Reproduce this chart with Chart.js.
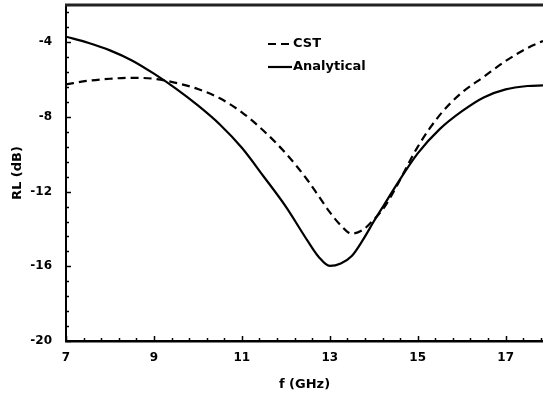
<!DOCTYPE html>
<html>
<head>
<meta charset="utf-8">
<script src="https://cdn.jsdelivr.net/npm/chart.js@4/dist/chart.umd.min.js"></script>
<style>
html,body{margin:0;padding:0;background:#fff;overflow:hidden;}
#wrap{width:543px;height:396px;position:relative;}
</style>
</head>
<body>
<div id="wrap"><canvas id="c" width="543" height="396"></canvas></div>
<script>
// ---- data ----
const freq = [7,7.5,8,8.5,9,9.5,10,10.5,11,11.5,12,12.5,12.75,13,13.25,13.5,13.75,14,14.25,14.5,15,15.5,16,16.5,17,17.5,17.85];
const cst = [-6.25,-6.06,-5.95,-5.9,-5.95,-6.17,-6.5,-7.0,-7.75,-8.75,-9.95,-11.4,-12.25,-13.1,-13.8,-14.25,-14.05,-13.5,-12.8,-11.8,-9.6,-7.9,-6.7,-5.85,-5.0,-4.3,-3.93];
const analytical = [-3.7,-4.02,-4.43,-4.97,-5.68,-6.48,-7.38,-8.4,-9.65,-11.2,-12.8,-14.65,-15.5,-15.98,-15.85,-15.45,-14.6,-13.6,-12.65,-11.7,-9.95,-8.65,-7.7,-6.95,-6.52,-6.34,-6.31];
const xTicks = [7,9,11,13,15,17];
const yTicks = [-20,-16,-12,-8,-4];
const seriesNames = ['CST','Analytical'];
const xTitle = 'f (GHz)';
const yTitle = 'RL (dB)';

const FONT = "'DejaVu Sans', sans-serif";
const toXY = arr => arr.map((v,i)=>({x:freq[i], y:v}));

const ticksAndFrame = {
  id:'ticksAndFrame',
  afterDraw(chart){
    const {ctx, chartArea:a, scales:{x,y}} = chart;
    ctx.save();
    ctx.lineWidth = 3;
    ctx.strokeStyle = '#222';
    ctx.beginPath(); ctx.moveTo(a.left-1, a.top); ctx.lineTo(chart.width, a.top); ctx.stroke();
    ctx.strokeStyle = '#000';
    ctx.lineWidth = 1.5;
    for (let v = x.min; v <= x.max + 1e-9; v += 0.4) {
      const px = Math.round(x.getPixelForValue(v)) + 0.5;
      const major = Math.abs((v - 7) / 2 - Math.round((v - 7) / 2)) < 1e-6;
      const len = major ? 5 : 3;
      ctx.beginPath(); ctx.moveTo(px, a.bottom); ctx.lineTo(px, a.bottom - len); ctx.stroke();
    }
    for (let v = y.min; v <= y.max + 1e-9; v += 0.8) {
      const py = Math.round(y.getPixelForValue(v)) + 0.5;
      const major = Math.abs(v / 4 - Math.round(v / 4)) < 1e-6;
      const len = major ? 5 : 3;
      ctx.beginPath(); ctx.moveTo(a.left, py); ctx.lineTo(a.left + len, py); ctx.stroke();
    }
    const ds = chart.data.datasets;
    const lx = 268, ly = [44, 67];
    ctx.font = "bold 13px " + FONT;
    ctx.textBaseline = 'middle';
    ctx.fillStyle = '#000';
    ds.forEach((d,i)=>{
      ctx.lineWidth = 2.2;
      ctx.setLineDash(d.borderDash || []);
      ctx.beginPath(); ctx.moveTo(lx, ly[i]); ctx.lineTo(lx + 24, ly[i]); ctx.stroke();
      ctx.setLineDash([]);
      ctx.fillText(d.label, lx + 25, ly[i]);
    });
    ctx.restore();
  }
};

new Chart(document.getElementById('c'), {
  type:'line',
  data:{
    datasets:[
      {label:seriesNames[0], data:toXY(cst), borderColor:'#000', borderWidth:2.2, borderDash:[8,5], pointRadius:0, cubicInterpolationMode:'monotone', fill:false},
      {label:seriesNames[1], data:toXY(analytical), borderColor:'#000', borderWidth:2.2, pointRadius:0, cubicInterpolationMode:'monotone', fill:false}
    ]
  },
  options:{
    responsive:false,
    animation:false,
    devicePixelRatio:1,
    layout:{padding:{top:5,right:0,left:0,bottom:0}},
    plugins:{legend:{display:false}, tooltip:{enabled:false}},
    scales:{
      x:{
        type:'linear', min:7, max:17.85,
        afterBuildTicks(s){ s.ticks = xTicks.map(v=>({value:v})); },
        afterFit(s){ s.height = 55; s.paddingLeft = 0; s.paddingRight = 0; },
        grid:{display:false, drawTicks:false},
        border:{display:true, color:'#000', width:2.5},
        ticks:{color:'#000', font:{family:FONT, weight:'bold', size:12}, padding:10, maxRotation:0, autoSkip:false},
        title:{display:true, text:xTitle, color:'#000', font:{family:FONT, weight:'bold', size:13}, padding:{top:0,bottom:4}}
      },
      y:{
        type:'linear', min:-20, max:-2,
        afterBuildTicks(s){ s.ticks = yTicks.map(v=>({value:v})); },
        afterFit(s){ s.width = 66; s.paddingTop = 0; s.paddingBottom = 0; },
        grid:{display:false, drawTicks:false},
        border:{display:true, color:'#000', width:2},
        ticks:{color:'#000', font:{family:FONT, weight:'bold', size:12}, padding:14, autoSkip:false},
        title:{display:true, text:yTitle, color:'#000', font:{family:FONT, weight:'bold', size:13}, padding:{top:10,bottom:0}}
      }
    }
  },
  plugins:[ticksAndFrame]
});
</script>
</body>
</html>
